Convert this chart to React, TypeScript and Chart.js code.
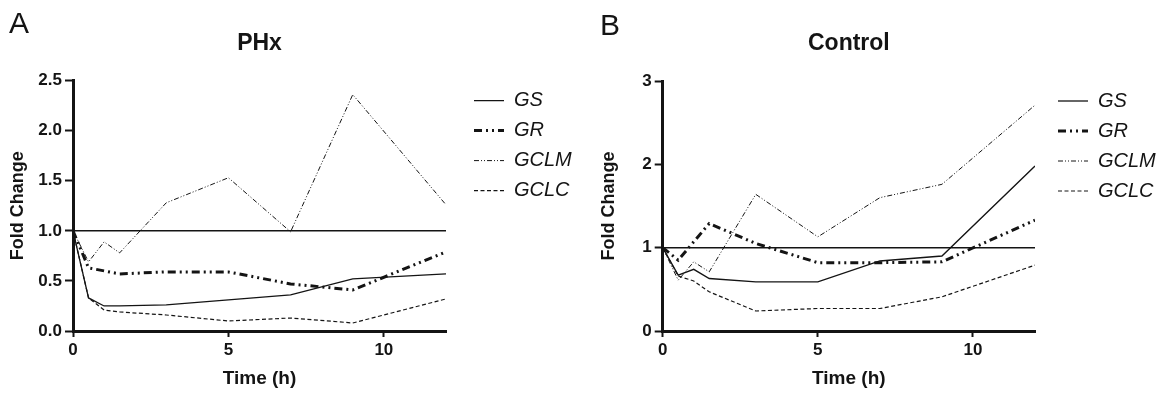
import React, { useEffect, useRef } from 'react';
import { Chart, registerables } from 'chart.js';

Chart.register(...registerables);

const FONT = '"Liberation Sans", Arial, Helvetica, sans-serif';
const INK = '#141414';

const times = [0, 0.5, 1, 1.5, 3, 5, 7, 9, 12];
const seriesNames = ['GS', 'GR', 'GCLM', 'GCLC'];
const xTickValues = [0, 5, 10];

// Panel A: PHx
const phxGS = [1.0, 0.33, 0.25, 0.25, 0.26, 0.31, 0.36, 0.52, 0.57];
const phxGR = [1.0, 0.63, 0.6, 0.57, 0.59, 0.59, 0.47, 0.41, 0.79];
const phxGCLM = [1.0, 0.69, 0.89, 0.78, 1.28, 1.53, 0.99, 2.36, 1.26];
const phxGCLC = [1.0, 0.33, 0.21, 0.19, 0.16, 0.1, 0.13, 0.08, 0.32];
const phxYTicks = [0, 0.5, 1, 1.5, 2, 2.5];

// Panel B: Control
const ctlGS = [1.0, 0.67, 0.74, 0.63, 0.59, 0.59, 0.84, 0.9, 1.98];
const ctlGR = [1.0, 0.85, 1.07, 1.29, 1.05, 0.82, 0.82, 0.83, 1.33];
const ctlGCLM = [1.0, 0.61, 0.83, 0.71, 1.64, 1.13, 1.6, 1.76, 2.71];
const ctlGCLC = [1.0, 0.66, 0.6, 0.47, 0.24, 0.27, 0.27, 0.41, 0.79];
const ctlYTicks = [0, 1, 2, 3];

const referenceLevel = 1;

const lineStyles = [
  { borderWidth: 1.3, borderDash: [] as number[] },
  { borderWidth: 3, borderDash: [8, 4, 2, 4, 2, 4] },
  { borderWidth: 1, borderDash: [5, 2, 1, 2, 1, 2] },
  { borderWidth: 1.2, borderDash: [4, 2.5] },
];

type PanelProps = {
  title: string;
  series: number[][];
  yTicks: number[];
  decimals: number;
  width: number;
  yAxisWidth: number;
  padWidth: number;
  yTitlePad: number;
  titleBottom: number;
};

function Panel(p: PanelProps) {
  const ref = useRef<HTMLCanvasElement | null>(null);
  useEffect(() => {
    if (!ref.current) return;
    const datasets: any[] = p.series.map((vals, i) => ({
      label: seriesNames[i],
      data: times.map((t, j) => ({ x: t, y: vals[j] })),
      borderColor: INK,
      backgroundColor: INK,
      borderWidth: lineStyles[i].borderWidth,
      borderDash: lineStyles[i].borderDash,
      borderCapStyle: 'butt',
      pointRadius: 0,
      fill: false,
      tension: 0,
    }));
    datasets.push({
      label: 'ref',
      data: [
        { x: times[0], y: referenceLevel },
        { x: times[times.length - 1], y: referenceLevel },
      ],
      borderColor: INK,
      borderWidth: 1.5,
      pointRadius: 0,
      fill: false,
    });
    const yMax = p.yTicks[p.yTicks.length - 1];
    const chart = new Chart(ref.current, {
      type: 'line',
      data: { datasets },
      options: {
        animation: false,
        responsive: false,
        devicePixelRatio: 1,
        layout: { padding: { left: 0, right: 9, top: 0, bottom: 0 } },
        scales: {
          x: {
            type: 'linear',
            min: times[0],
            max: times[times.length - 1],
            afterBuildTicks: (s: any) => {
              s.ticks = xTickValues.map((v) => ({ value: v }));
            },
            afterFit: (s: any) => {
              s.height = 62;
            },
            ticks: {
              font: { family: FONT, size: 17, weight: 'bold' },
              color: INK,
              padding: 3,
            },
            grid: {
              display: true,
              drawOnChartArea: false,
              drawTicks: true,
              tickLength: 6,
              tickWidth: 2,
              color: INK,
            },
            border: { display: true, width: 3, color: INK },
            title: {
              display: true,
              text: 'Time (h)',
              font: { family: FONT, size: 19, weight: 'bold' },
              color: INK,
              padding: { top: 0, bottom: 3 },
            },
          },
          y: {
            type: 'linear',
            min: p.yTicks[0],
            max: yMax,
            afterBuildTicks: (s: any) => {
              s.ticks = p.yTicks.map((v) => ({ value: v }));
            },
            afterFit: (s: any) => {
              s.width = p.yAxisWidth;
            },
            ticks: {
              font: { family: FONT, size: 17, weight: 'bold' },
              color: INK,
              padding: 3,
              callback: (v: any) => Number(v).toFixed(p.decimals),
            },
            grid: {
              display: true,
              drawOnChartArea: false,
              drawTicks: true,
              tickLength: 8,
              tickWidth: 2,
              color: INK,
            },
            border: { display: true, width: 3, color: INK },
            title: {
              display: true,
              text: 'Fold Change',
              font: { family: FONT, size: 18, weight: 'bold' },
              color: INK,
              padding: { top: p.yTitlePad, bottom: 0 },
            },
          },
          pad: {
            type: 'linear',
            position: 'right',
            display: true,
            afterFit: (s: any) => {
              s.width = p.padWidth;
            },
            ticks: { display: false },
            grid: { display: false },
            border: { display: false },
          },
        } as any,
        plugins: {
          title: {
            display: true,
            text: p.title,
            fullSize: false,
            color: INK,
            font: { family: FONT, size: 23, weight: 'bold' },
            padding: { top: 30, bottom: p.titleBottom },
          },
          legend: {
            display: true,
            position: 'right',
            align: 'start',
            fullSize: false,
            maxWidth: 112,
            labels: {
              usePointStyle: true,
              pointStyle: 'line',
              pointStyleWidth: 30,
              padding: 10,
              color: INK,
              font: { family: FONT, size: 20, style: 'italic' },
              generateLabels: (c: any) =>
                c.data.datasets
                  .map((ds: any, i: number) => ({
                    text: ds.label,
                    fillStyle: INK,
                    strokeStyle: INK,
                    fontColor: INK,
                    lineWidth: ds.borderWidth,
                    lineDash: ds.borderDash || [],
                    lineCap: 'butt',
                    pointStyle: 'line',
                    hidden: false,
                    datasetIndex: i,
                  }))
                  .filter((item: any) => item.text !== 'ref'),
            },
          } as any,
          tooltip: { enabled: false },
        },
      },
    });
    return () => chart.destroy();
  }, []);
  return <canvas ref={ref} width={p.width} height={393} style={{ display: 'block' }} />;
}

export default function App() {
  const labelStyle: React.CSSProperties = {
    position: 'absolute',
    fontFamily: FONT,
    fontSize: 30,
    lineHeight: '30px',
    color: INK,
  };
  return (
    <div
      style={{
        position: 'fixed',
        left: 0,
        top: 0,
        width: 1169,
        height: 393,
        background: '#fff',
        display: 'flex',
        overflow: 'hidden',
      }}
    >
      <Panel
        title="PHx"
        series={[phxGS, phxGR, phxGCLM, phxGCLC]}
        yTicks={phxYTicks}
        decimals={1}
        width={585}
        yAxisWidth={73}
        padWidth={18}
        yTitlePad={7}
        titleBottom={23}
      />
      <Panel
        title="Control"
        series={[ctlGS, ctlGR, ctlGCLM, ctlGCLC]}
        yTicks={ctlYTicks}
        decimals={0}
        width={584}
        yAxisWidth={77.7}
        padWidth={13}
        yTitlePad={13}
        titleBottom={23.4}
      />
      <div style={{ ...labelStyle, left: 9, top: 8 }}>A</div>
      <div style={{ ...labelStyle, left: 600, top: 10 }}>B</div>
    </div>
  );
}
